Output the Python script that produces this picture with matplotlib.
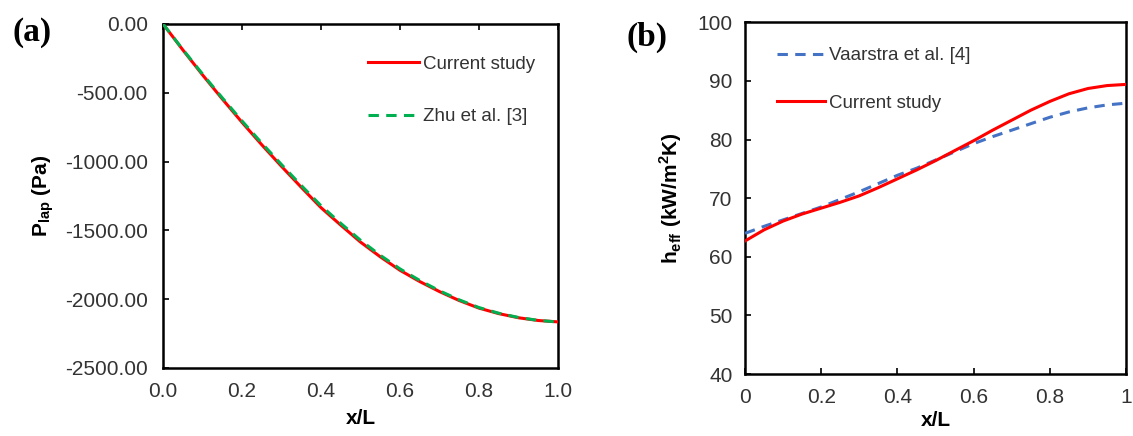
import matplotlib
matplotlib.use("Agg")
import matplotlib.pyplot as plt

plt.rcParams['font.family'] = ['Liberation Sans', 'DejaVu Sans']
plt.rcParams['mathtext.fontset'] = 'custom'
plt.rcParams['mathtext.rm'] = 'Liberation Sans'
plt.rcParams['mathtext.bf'] = 'Liberation Sans:bold'

# ---- Panel (a): Laplace pressure along the channel ----
x_a = [0.00, 0.05, 0.10, 0.15, 0.20, 0.25, 0.30, 0.35, 0.40, 0.45, 0.50,
       0.55, 0.60, 0.65, 0.70, 0.75, 0.80, 0.85, 0.90, 0.95, 1.00]
p_current = [0, -188, -370, -545, -715, -878, -1035, -1187, -1335, -1462, -1585,
             -1692, -1790, -1872, -1945, -2010, -2065, -2105, -2135, -2155, -2165]
p_zhu = [0, -185, -364, -537, -705, -866, -1022, -1174, -1321, -1449, -1572,
         -1681, -1780, -1864, -1939, -2005, -2061, -2102, -2133, -2154, -2166]
yticks_a = [0, -500, -1000, -1500, -2000, -2500]
xticks_a = [0.0, 0.2, 0.4, 0.6, 0.8, 1.0]

# ---- Panel (b): effective heat transfer coefficient ----
x_b = [0.00, 0.05, 0.10, 0.15, 0.20, 0.25, 0.30, 0.35, 0.40, 0.45, 0.50,
       0.55, 0.60, 0.65, 0.70, 0.75, 0.80, 0.85, 0.90, 0.95, 1.00]
h_current = [62.7, 64.6, 66.1, 67.3, 68.3, 69.3, 70.4, 71.8, 73.3, 74.8, 76.4,
             78.1, 79.8, 81.6, 83.3, 85.0, 86.5, 87.8, 88.7, 89.2, 89.4]
h_vaarstra = [64.0, 65.2, 66.3, 67.4, 68.5, 69.8, 71.1, 72.5, 73.9, 75.1, 76.5,
              77.9, 79.3, 80.5, 81.6, 82.7, 83.8, 84.7, 85.4, 85.9, 86.2]
yticks_b = [40, 50, 60, 70, 80, 90, 100]
xticks_b = [0, 0.2, 0.4, 0.6, 0.8, 1]

RED = '#FF0000'
GREEN = '#00B050'
BLUE = '#4472C4'
TXT = '#333333'
DASH = (0, (3.4, 2.4))

fig = plt.figure(figsize=(11.33, 4.36), dpi=100)
ax1 = fig.add_axes([0.1439, 0.156, 0.3486, 0.789])
ax2 = fig.add_axes([0.6576, 0.142, 0.3363, 0.807])

for ax in (ax1, ax2):
    for s in ax.spines.values():
        s.set_linewidth(1.8)
        s.set_color('black')

# (a)
ax1.plot(x_a, p_current, color=RED, lw=2.2, label='Current study', zorder=3)
ax1.plot(x_a, p_zhu, color=GREEN, lw=2.2, ls=DASH, label='Zhu et al. [3]', zorder=4)
ax1.set_xlim(0, 1)
ax1.set_ylim(-2500, 0)
ax1.set_xticks(xticks_a)
ax1.set_xticklabels([f"{v:.1f}" for v in xticks_a])
ax1.set_yticks(yticks_a)
ax1.set_yticklabels([f"{v:.2f}" for v in yticks_a])
ax1.tick_params(axis='x', top=True, bottom=False, direction='in', length=4.5, width=1.2,
                labelbottom=True, labeltop=False, labelsize=15, labelcolor=TXT, pad=10)
ax1.tick_params(axis='y', direction='in', length=4.5, width=1.2, labelsize=15,
                labelcolor=TXT, pad=11)
ax1.set_xlabel('x/L', fontsize=15, fontweight='bold', labelpad=6)
ax1.set_ylabel(r'P$_{\mathbf{lap}}$ (Pa)', fontsize=15, fontweight='bold', labelpad=6)
leg1 = ax1.legend(loc='upper left', bbox_to_anchor=(0.5, 0.93), frameon=False,
                  fontsize=13.5, handlelength=2.7, handletextpad=0.25, labelspacing=1.9,
                  borderaxespad=0)
for t in leg1.get_texts():
    t.set_color(TXT)

# (b)
ax2.plot(x_b, h_vaarstra, color=BLUE, lw=2.2, ls=DASH, label='Vaarstra et al. [4]', zorder=3)
ax2.plot(x_b, h_current, color=RED, lw=2.2, label='Current study', zorder=4)
ax2.set_xlim(0, 1)
ax2.set_ylim(40, 100)
ax2.set_xticks(xticks_b)
ax2.set_xticklabels([f"{v:g}" for v in xticks_b])
ax2.set_yticks(yticks_b)
ax2.tick_params(axis='both', direction='in', length=4.5, width=1.2, labelsize=15,
                labelcolor=TXT)
ax2.tick_params(axis='x', pad=10)
ax2.tick_params(axis='y', pad=9)
ax2.set_xlabel('x/L', fontsize=15, fontweight='bold', labelpad=3)
ax2.set_ylabel(r'h$_{\mathbf{eff}}$ (kW/m$^{\mathbf{2}}$K)', fontsize=15, fontweight='bold',
               labelpad=10)
leg2 = ax2.legend(loc='upper left', bbox_to_anchor=(0.065, 0.95), frameon=False,
                  fontsize=13.5, handlelength=2.55, handletextpad=0.2, labelspacing=1.6,
                  borderaxespad=0)
for t in leg2.get_texts():
    t.set_color(TXT)

fig.text(12 / 1133, 1 - 33 / 436, '(a)', fontsize=24, fontweight='bold',
         family='Liberation Serif', va='center', ha='left')
fig.text(626 / 1133, 1 - 37 / 436, '(b)', fontsize=24, fontweight='bold',
         family='Liberation Serif', va='center', ha='left')

fig.savefig('out.png', dpi=100)
